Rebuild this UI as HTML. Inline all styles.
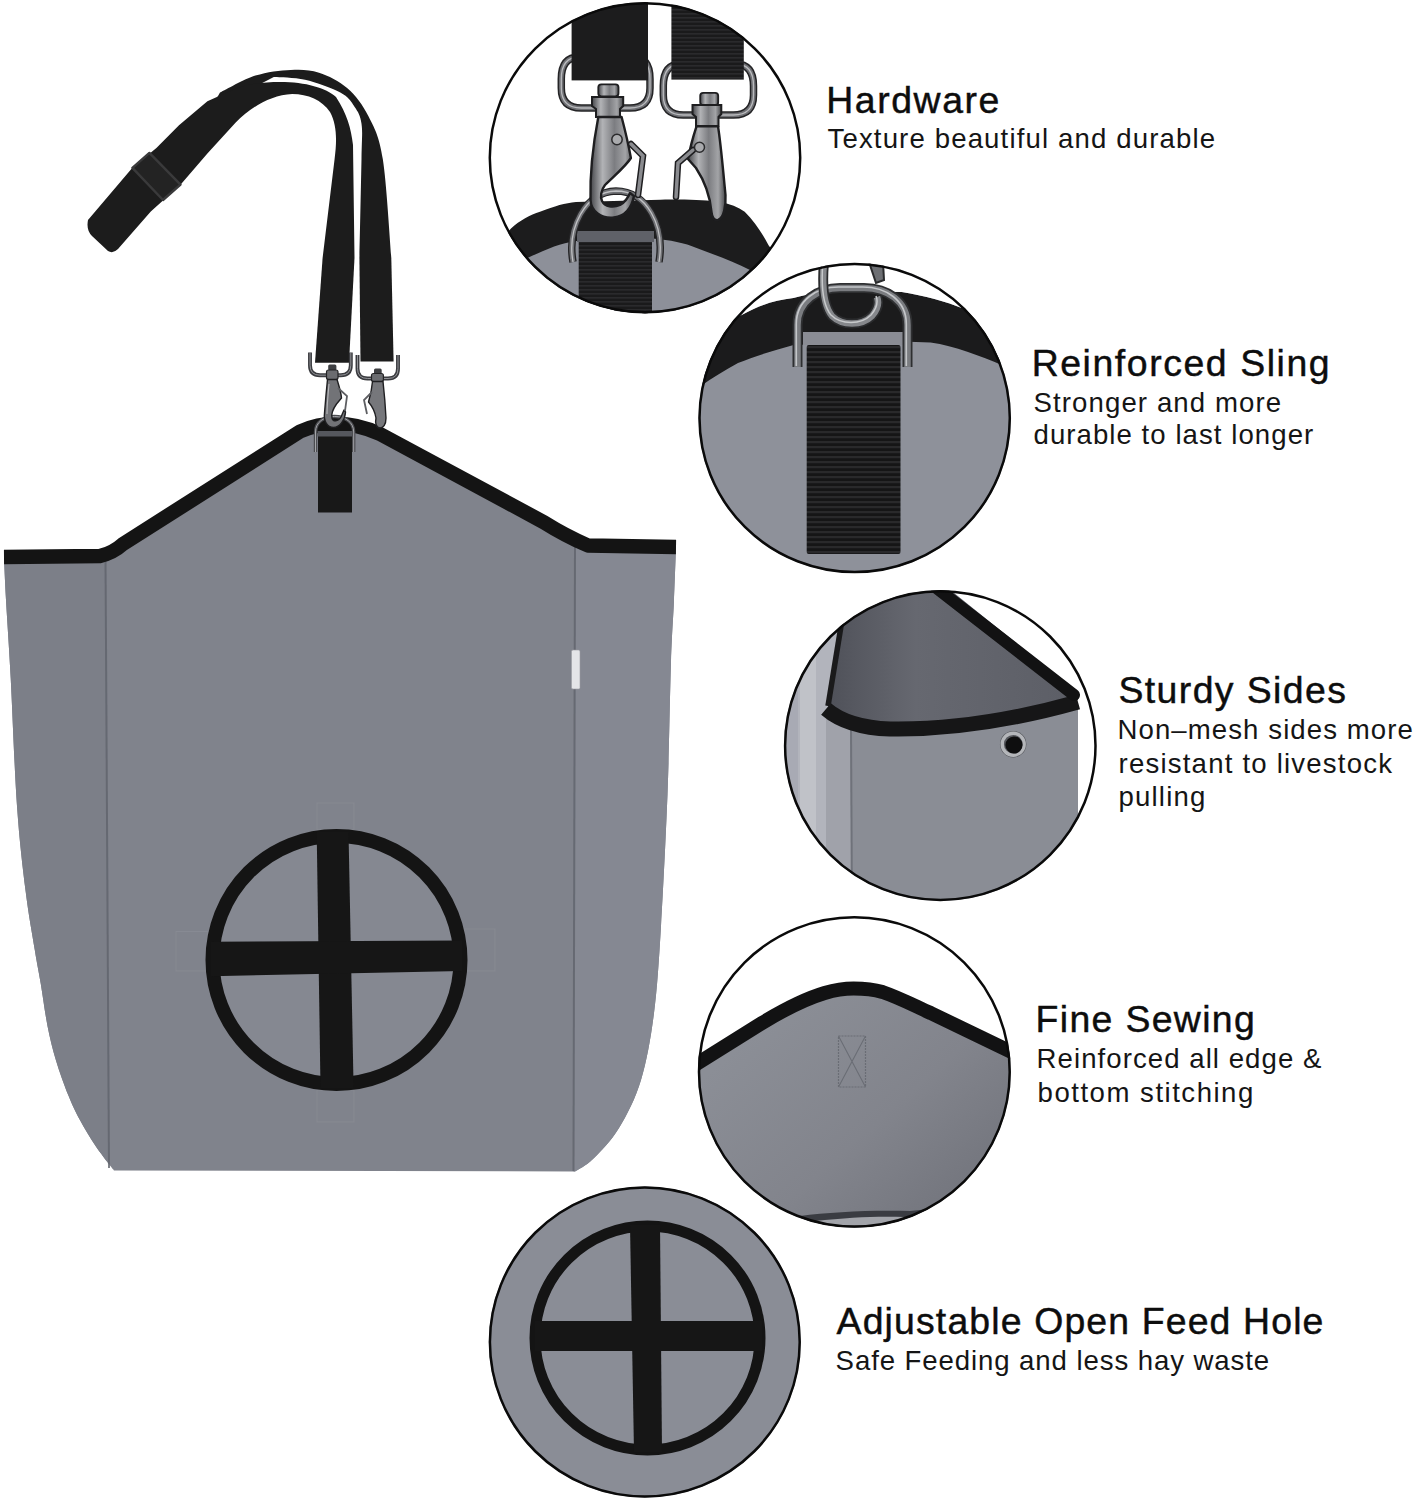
<!DOCTYPE html>
<html><head><meta charset="utf-8"><title>Hay Bag</title>
<style>
html,body{margin:0;padding:0;background:#fff;}
body{width:1413px;height:1500px;position:relative;overflow:hidden;font-family:"Liberation Sans",sans-serif;color:#0d0d0d;}
svg{position:absolute;left:0;top:0;}
.h,.s{position:absolute;white-space:nowrap;line-height:1;}
.h{font-size:37.4px;-webkit-text-stroke:0.45px #0d0d0d;}
.s{font-size:27.6px;color:#151515;}
</style></head><body>
<svg width="1413" height="1500" viewBox="0 0 1413 1500">
<defs><pattern id="web" width="6" height="5" patternUnits="userSpaceOnUse"><rect width="6" height="5" fill="#151516"/><rect y="1" width="6" height="2.2" fill="#29292b"/></pattern><pattern id="web2" width="6" height="4" patternUnits="userSpaceOnUse"><rect width="6" height="4" fill="#1a1a1b"/><rect y="1" width="6" height="1.6" fill="#2a2a2c"/></pattern><clipPath id="c0"><ellipse cx="645" cy="157.75" rx="156.2" ry="155.45"/></clipPath><clipPath id="c1"><ellipse cx="854.65" cy="418.05" rx="156.15" ry="155.05"/></clipPath><clipPath id="c2"><ellipse cx="940.3" cy="745.65" rx="156.2" ry="155.35"/></clipPath><clipPath id="c3"><ellipse cx="854.35" cy="1071.95" rx="156.35" ry="155.65"/></clipPath><clipPath id="c4"><ellipse cx="644.8" cy="1342" rx="155.9" ry="155.5"/></clipPath></defs>
<path d="M4,557 L100,556 Q113,553 123,544 L300,431.5 Q338,415 380,434 L544,522.3 Q565,535.5 588,545.5 L676,547 L676.0,547.0 C675.7,555.8 674.8,580.8 674.0,600.0 C673.2,619.2 672.1,629.7 671.0,662.0 C669.9,694.3 669.2,750.0 667.5,794.0 C665.8,838.0 663.2,889.5 661.0,926.0 C658.8,962.5 657.3,987.3 654.0,1013.0 C650.7,1038.7 646.8,1060.8 641.0,1080.0 C635.2,1099.2 627.0,1114.8 619.0,1128.0 C611.0,1141.2 600.3,1151.8 593.0,1159.0 C585.7,1166.2 578.0,1169.4 575.0,1171.5 L113.8,1170.5 L113.8,1170.0 C113.2,1169.3 113.5,1170.1 110.4,1166.0 C107.3,1161.9 100.2,1153.0 95.1,1145.3 C90.0,1137.6 84.3,1128.3 79.8,1119.8 C75.3,1111.3 72.0,1104.3 68.0,1094.4 C64.0,1084.5 59.4,1071.7 56.0,1060.4 C52.6,1049.1 50.1,1039.1 47.6,1026.4 C45.1,1013.7 42.9,996.7 40.8,984.0 C38.7,971.3 37.3,965.5 34.8,950.0 C32.3,934.5 28.6,915.0 25.6,891.0 C22.6,867.0 19.5,841.5 17.0,806.0 C14.5,770.5 12.5,712.3 10.7,678.0 C8.9,643.7 7.1,620.0 6.0,600.0 C4.9,580.0 4.3,565.0 4.0,558.0 Z" fill="#80838c"/>
<clipPath id="bodyclip"><path d="M4,557 L100,556 Q113,553 123,544 L300,431.5 Q338,415 380,434 L544,522.3 Q565,535.5 588,545.5 L676,547 L676.0,547.0 C675.7,555.8 674.8,580.8 674.0,600.0 C673.2,619.2 672.1,629.7 671.0,662.0 C669.9,694.3 669.2,750.0 667.5,794.0 C665.8,838.0 663.2,889.5 661.0,926.0 C658.8,962.5 657.3,987.3 654.0,1013.0 C650.7,1038.7 646.8,1060.8 641.0,1080.0 C635.2,1099.2 627.0,1114.8 619.0,1128.0 C611.0,1141.2 600.3,1151.8 593.0,1159.0 C585.7,1166.2 578.0,1169.4 575.0,1171.5 L113.8,1170.5 L113.8,1170.0 C113.2,1169.3 113.5,1170.1 110.4,1166.0 C107.3,1161.9 100.2,1153.0 95.1,1145.3 C90.0,1137.6 84.3,1128.3 79.8,1119.8 C75.3,1111.3 72.0,1104.3 68.0,1094.4 C64.0,1084.5 59.4,1071.7 56.0,1060.4 C52.6,1049.1 50.1,1039.1 47.6,1026.4 C45.1,1013.7 42.9,996.7 40.8,984.0 C38.7,971.3 37.3,965.5 34.8,950.0 C32.3,934.5 28.6,915.0 25.6,891.0 C22.6,867.0 19.5,841.5 17.0,806.0 C14.5,770.5 12.5,712.3 10.7,678.0 C8.9,643.7 7.1,620.0 6.0,600.0 C4.9,580.0 4.3,565.0 4.0,558.0 Z"/></clipPath>
<g clip-path="url(#bodyclip)"><path d="M0,540 L105.5,540 L109,1175 L0,1175 Z" fill="#7c7f88"/><path d="M575,530 L700,530 L700,1180 L573.5,1180 Z" fill="#858892"/></g>
<path d="M105.5,556 L109,1168" stroke="#5f636c" stroke-width="2" fill="none" opacity="0.8"/>
<path d="M575,546 L573.5,1171" stroke="#5f636c" stroke-width="2" fill="none" opacity="0.8"/>
<rect x="571.5" y="650" width="8.5" height="39" rx="1.5" fill="#e4e5e8" stroke="#9a9ca3" stroke-width="0.6"/>
<path d="M4,557 L100,556 Q113,553 123,544 L300,431.5 Q338,415 380,434 L544,522.3 Q565,535.5 588,545.5 L676,547" stroke="#141414" stroke-width="14.4" fill="none" stroke-linejoin="round"/>
<circle cx="336.5" cy="960" r="124" fill="#858891"/>
<rect x="317" y="803" width="37" height="27" fill="none" stroke="#8c8f97" stroke-width="1" opacity="0.6"/>
<rect x="317" y="1090" width="37" height="32" fill="none" stroke="#8c8f97" stroke-width="1" opacity="0.6"/>
<rect x="176" y="931.5" width="32" height="39.5" fill="none" stroke="#8c8f97" stroke-width="1" opacity="0.6"/>
<rect x="463" y="929" width="32" height="42" fill="none" stroke="#8c8f97" stroke-width="1" opacity="0.6"/>
<circle cx="336.5" cy="960" r="124" fill="none" stroke="#141414" stroke-width="14"/>
<path d="M316.7,832 L348.5,832 L353.6,1088 L320.5,1088 Z" fill="#161616"/>
<path d="M211,941.8 L462,940.5 L462,971 L211,976.2 Z" fill="#161616"/>
<rect x="318" y="432" width="34" height="80.5" fill="#181818"/>
<rect x="317.5" y="431" width="35" height="5.5" fill="#55575d"/>
<path d="M359.4,258 L391.3,258 L393.6,361.4 L360.5,361.4 Z" fill="#1c1c1c"/>
<path d="M322.6,258 L354.5,258 L349,362.7 L315,362.7 Z" fill="#1c1c1c"/>
<path d="M391.3,258.0 C389.9,241.5 386.6,182.6 382.8,159.0 C379.0,135.4 374.5,128.4 368.6,116.6 C362.7,104.8 355.7,95.6 347.4,88.3 C339.1,81.0 328.4,75.8 319.0,72.7 C309.6,69.6 301.4,69.4 290.8,69.9 C280.2,70.4 267.2,71.8 255.4,75.6 C243.6,79.4 225.9,89.8 220.0,92.6 L 210,110 L273.8,77.0 C279.0,77.5 293.9,77.2 305.0,79.8 C316.1,82.4 332.1,88.1 340.3,92.6 C348.6,97.1 351.0,101.5 354.5,106.7 C358.0,111.9 360.3,115.0 361.5,123.7 C362.7,132.4 361.9,136.6 361.5,159.0 C361.1,181.4 359.8,241.5 359.4,258.0 Z" fill="#1c1c1c"/>
<path d="M354.5,258 L353,145 C351,128 347,114 336,97 C326,88 306,82 280,82 C262,82 245,84 228,92 L207.4,101.2 L179,125.3 L156.4,148 L132.4,167.8 L88,220 Q86,230 92,236 L108,251 Q113,254 118,249 L150.8,211.6 L180.5,184.7 L207.4,153.6 L235.7,122.5 C250,108 270,95 292.2,94 C308,94 322,100 330,112 C337,125 337,140 334.6,159 L322.6,258 Z" fill="#1c1c1c"/>
<path d="M132.4,167.8 L149.4,152.9 L180.5,184.7 L163,200 Z" fill="#232323" stroke="#3a3a3b" stroke-width="2.4" stroke-linejoin="round"/>
<path d="M310,352.5 L310,365.2 Q310,375.2 320,375.2 L340.8,375.2 Q350.8,375.2 350.8,365.2 L350.8,352.5" fill="none" stroke="#3a3b3f" stroke-width="3.9"/><path d="M310,352.5 L310,365.2 Q310,375.2 320,375.2 L340.8,375.2 Q350.8,375.2 350.8,365.2 L350.8,352.5" fill="none" stroke="#9c9da1" stroke-width="0.9"/>
<path d="M357.5,355 L357.5,368.5 Q357.5,378.5 367.5,378.5 L388,378.5 Q398,378.5 398,368.5 L398,355" fill="none" stroke="#3a3b3f" stroke-width="3.9"/><path d="M357.5,355 L357.5,368.5 Q357.5,378.5 367.5,378.5 L388,378.5 Q398,378.5 398,368.5 L398,355" fill="none" stroke="#9c9da1" stroke-width="0.9"/>
<path d="M315.5,452 L315.5,432 C315.5,422 324,416.5 334.5,416.5 C345,416.5 353.7,422 353.7,432 L353.7,452" fill="none" stroke="#4b4c50" stroke-width="3.4"/>
<path d="M315.5,452 L315.5,432 C315.5,422 324,416.5 334.5,416.5 C345,416.5 353.7,422 353.7,432 L353.7,452" fill="none" stroke="#a5a6aa" stroke-width="1"/>
<rect x="328.2" y="364.5" width="8.2" height="6" rx="1.5" fill="#3e3f42"/>
<rect x="326.5" y="370" width="11.5" height="9.5" rx="2" fill="#6b6c70" stroke="#242426" stroke-width="1.2"/>
<path d="M327.5,379.5 L337,379.5 C339,386 341,392 341.5,398 L336.5,404 C333,409 331,414 332,418 C333,422 338,422 341,417 L344,410 L345.5,412 C345,420 340,427.5 333.5,427.5 C327,427 323.5,421 324.5,413 L326,395 Z" fill="#727377" stroke="#1f1f21" stroke-width="1.4" stroke-linejoin="round"/>
<path d="M338,388 L347,396 L345,411" fill="none" stroke="#5d5e62" stroke-width="1.8"/>
<path d="M329,384 C328,395 327,405 327,414" fill="none" stroke="#b9babd" stroke-width="1.1"/>
<rect x="374" y="368.5" width="7.7" height="5.5" rx="1.5" fill="#3e3f42"/>
<rect x="371.5" y="373.5" width="11.9" height="8" rx="2" fill="#6b6c70" stroke="#242426" stroke-width="1.2"/>
<path d="M372.5,381.5 L383,381.5 C384.5,395 385.5,408 386,418 C386,425 383,428 380,428 C376,427.5 375,423 376,418 C375,412 372,406 368.5,402 L371,392 Z" fill="#76777b" stroke="#1f1f21" stroke-width="1.4" stroke-linejoin="round"/>
<path d="M372,392 L364,400 L367,414" fill="none" stroke="#5d5e62" stroke-width="1.8"/>
<g clip-path="url(#c0)"><rect x="480" y="0" width="330" height="320" fill="#ffffff"/><path d="M480,260 L511,228.6 C520,220 530,215 540,211.7 C555,206 565,203 576,202 L660.5,199.7 C690,199 705,200 720.6,202 C730,204 738,207 744.7,211.7 C755,222 762,233 768.7,245.4 L810,300 L810,330 L480,330 Z" fill="#1c1c1d"/><path d="M480,330 L480,280 L518,256 C521,257 524,258 528,257.7 C545,250 560,243 576,241 L653,238.5 C670,240 685,243 696.6,248 C715,255 735,262 749.5,269.8 L810,310 L810,330 Z" fill="#8d9099"/><rect x="578.7" y="241" width="73.3" height="75" fill="url(#web2)"/><rect x="577" y="231" width="77" height="11" fill="#5f6168"/><defs><linearGradient id="met" x1="0" y1="0" x2="1" y2="0"><stop offset="0" stop-color="#45464a"/><stop offset="0.28" stop-color="#b2b3b6"/><stop offset="0.55" stop-color="#7c7d81"/><stop offset="0.8" stop-color="#a3a4a7"/><stop offset="1" stop-color="#48494c"/></linearGradient></defs><path d="M561.3,79 L561.3,88 Q561.3,108 581.3,108 L630,108 Q650,108 650,88 L650,79 Q650,57 632,57" fill="none" stroke="#242426" stroke-width="7.5" stroke-linejoin="round"/><path d="M561.3,79 L561.3,88 Q561.3,108 581.3,108 L630,108 Q650,108 650,88 L650,79 Q650,57 632,57" fill="none" stroke="#6e6f73" stroke-width="4.5" stroke-linejoin="round"/><path d="M561.3,79 L561.3,88 Q561.3,108 581.3,108 L630,108 Q650,108 650,88 L650,79 Q650,57 632,57" fill="none" stroke="#b9babd" stroke-width="1.3" stroke-linejoin="round"/><path d="M579.3,57 Q561.3,57 561.3,79" fill="none" stroke="#242426" stroke-width="7.5" stroke-linejoin="round"/><path d="M579.3,57 Q561.3,57 561.3,79" fill="none" stroke="#6e6f73" stroke-width="4.5" stroke-linejoin="round"/><path d="M579.3,57 Q561.3,57 561.3,79" fill="none" stroke="#b9babd" stroke-width="1.3" stroke-linejoin="round"/><path d="M663.3,86 L663.3,95 Q663.3,115 683.3,115 L733.5,115 Q753.5,115 753.5,95 L753.5,86 Q753.5,64 735.5,64" fill="none" stroke="#242426" stroke-width="7.5" stroke-linejoin="round"/><path d="M663.3,86 L663.3,95 Q663.3,115 683.3,115 L733.5,115 Q753.5,115 753.5,95 L753.5,86 Q753.5,64 735.5,64" fill="none" stroke="#6e6f73" stroke-width="4.5" stroke-linejoin="round"/><path d="M663.3,86 L663.3,95 Q663.3,115 683.3,115 L733.5,115 Q753.5,115 753.5,95 L753.5,86 Q753.5,64 735.5,64" fill="none" stroke="#b9babd" stroke-width="1.3" stroke-linejoin="round"/><path d="M681.3,64 Q663.3,64 663.3,86" fill="none" stroke="#242426" stroke-width="7.5" stroke-linejoin="round"/><path d="M681.3,64 Q663.3,64 663.3,86" fill="none" stroke="#6e6f73" stroke-width="4.5" stroke-linejoin="round"/><path d="M681.3,64 Q663.3,64 663.3,86" fill="none" stroke="#b9babd" stroke-width="1.3" stroke-linejoin="round"/><rect x="571.6" y="0" width="76.4" height="80.4" fill="#1c1c1d"/><rect x="671.4" y="0" width="72.4" height="79.6" fill="url(#web2)"/><path d="M573,262 C567,228 585,192 616,191 C647,191 665,226 659,262" fill="none" stroke="#242426" stroke-width="7.5"/><path d="M573,262 C567,228 585,192 616,191 C647,191 665,226 659,262" fill="none" stroke="#707175" stroke-width="4.8"/><path d="M573,262 C567,228 585,192 616,191 C647,191 665,226 659,262" fill="none" stroke="#c0c1c4" stroke-width="1.3"/><rect x="598.3" y="84.3" width="20.2" height="12" rx="3" fill="url(#met)" stroke="#1e1e20" stroke-width="1.8"/><path d="M592,97 L623.2,97 L623.2,106 L620,109 L620,117 L596,117 L596,109 L592,106 Z" fill="url(#met)" stroke="#1e1e20" stroke-width="2"/><path d="M598.3,117 L621.6,117 C625,130 628,142 630.9,158 C626,166 615,175 605,185 C601,190 600,197 602,201 C605,207 613,208 620,205 C625,202 628,198 630,193 L634,196 C632,206 626,216 614,217.5 C601,219 591,211 590.5,200 C590,180 592,150 598.3,117 Z" fill="url(#met)" stroke="#1e1e20" stroke-width="2.4" stroke-linejoin="round"/><path d="M631,144 L643,156 L638,195" fill="none" stroke="#1e1e20" stroke-width="6.5" stroke-linecap="round"/><path d="M631,144 L643,156 L638,195" fill="none" stroke="#8a8b8f" stroke-width="3.5" stroke-linecap="round"/><circle cx="617" cy="139.5" r="5.2" fill="#a9aaad" stroke="#2a2a2c" stroke-width="1.5"/><rect x="700.2" y="92.8" width="18" height="12.5" rx="3" fill="url(#met)" stroke="#1e1e20" stroke-width="1.8"/><path d="M692.5,105 L721.3,105 L721.3,114 L718.5,117 L718.5,126.3 L696,126.3 L696,117 L692.5,114 Z" fill="url(#met)" stroke="#1e1e20" stroke-width="2"/><path d="M696.5,126.3 L718,126.3 C721,145 723,170 725.5,195 C726,206 724,218 718,220 C714,221 712,217 711.5,212 C710,196 704,180 696,168 L688,159 C690,148 693,137 696.5,126.3 Z" fill="url(#met)" stroke="#1e1e20" stroke-width="2.4" stroke-linejoin="round"/><path d="M693,150 L678,163 L676,197" fill="none" stroke="#1e1e20" stroke-width="6.5" stroke-linecap="round"/><path d="M693,150 L678,163 L676,197" fill="none" stroke="#8a8b8f" stroke-width="3.5" stroke-linecap="round"/><circle cx="699.5" cy="147.3" r="5" fill="#a9aaad" stroke="#2a2a2c" stroke-width="1.5"/></g>
<g clip-path="url(#c1)"><rect x="690" y="250" width="340" height="340" fill="#8e919a"/><path d="M690,330 L741.7,315 C760,305 775,300 793.5,298 C810,294 820,292 834.4,291 L901.7,292 C925,296 945,301 964.3,309 C978,318 988,330 995.6,341.4 L1030,380 L1030,372 C1020,370 1012,368 1002.8,365.5 C980,356 955,346 930.6,342.6 L901.7,341.4 L793.5,345 C775,350 755,356 738,363 C725,370 712,378 700.8,386 L690,392 Z" fill="#1b1b1c"/><path d="M690,250 L1030,250 L1030,372 L995.6,341.4 C988,330 978,318 964.3,309 C945,301 925,296 901.7,292 L834.4,291 C820,292 810,294 793.5,298 C775,300 760,305 741.7,315 L690,340 Z" fill="#ffffff"/><rect x="806.7" y="345" width="93.8" height="209" rx="2" fill="url(#web)"/><rect x="803" y="332" width="100" height="13" fill="#8a8c94"/><path d="M797.5,367 L797.5,325 C797.5,301 818,288 840,288 L864,288 C887,288 907.5,301 907.5,325 L907.5,367" fill="none" stroke="#2e2f31" stroke-width="10"/><path d="M797.5,367 L797.5,325 C797.5,301 818,288 840,288 L864,288 C887,288 907.5,301 907.5,325 L907.5,367" fill="none" stroke="#7a7c80" stroke-width="6.5"/><path d="M797.5,367 L797.5,325 C797.5,301 818,288 840,288 L864,288 C887,288 907.5,301 907.5,325 L907.5,367" fill="none" stroke="#c4c6c9" stroke-width="1.6" transform="translate(-1.2,-1)"/><path d="M824,262 C822,285 823,305 832,316 C842,326 862,326 872,316 C878,309 879,302 877,297" fill="none" stroke="#2a2b2d" stroke-width="10"/><path d="M824,262 C822,285 823,305 832,316 C842,326 862,326 872,316 C878,309 879,302 877,297" fill="none" stroke="#85878b" stroke-width="6.5"/><path d="M824,262 C822,285 823,305 832,316 C842,326 862,326 872,316 C878,309 879,302 877,297" fill="none" stroke="#c8cacc" stroke-width="1.5" transform="translate(-1,-1)"/><path d="M869,262 L883,262 L884,280 L876,283 Z" fill="#6d6f73" stroke="#2a2b2d" stroke-width="2"/></g>
<g clip-path="url(#c2)"><rect x="770" y="580" width="340" height="340" fill="#ffffff"/><path d="M770,580 L845,580 L842,626 L828,712 L826,920 L770,920 Z" fill="#b2b4bc"/><path d="M770,580 L798,580 L798,920 L770,920 Z" fill="#a8aab4"/><path d="M800,620 L816,620 L816,900 L800,900 Z" fill="#c0c2c8"/><defs><linearGradient id="g2" x1="0" y1="0" x2="1" y2="0"><stop offset="0" stop-color="#4f5159"/><stop offset="0.35" stop-color="#666870"/><stop offset="1" stop-color="#5c5e66"/></linearGradient></defs><path d="M845,580 L938,580 L1078,693 L1078,700 C1040,712 990,722 938,725 C900,726 870,724 850,718 L828,708 L842,626 Z" fill="url(#g2)"/><path d="M826,712 C840,722 860,730 890,731 C950,733 1010,725 1078,702 L1078,920 L826,920 Z" fill="#8a8d95"/><path d="M826,712 L850,722 L852,920 L826,920 Z" fill="#a0a2aa"/><path d="M851,725 L852,920" stroke="#6f727a" stroke-width="2"/><path d="M826,709 C840,721 860,728 890,729 C950,730 1010,721 1078,702" fill="none" stroke="#161617" stroke-width="15" stroke-linejoin="round"/><path d="M936.5,588 L1074,695" fill="none" stroke="#121213" stroke-width="12" stroke-linecap="round"/><path d="M842,620 L828,706" fill="none" stroke="#1a1a1b" stroke-width="5.5"/><circle cx="1013.2" cy="744.2" r="13.2" fill="#55575c"/><circle cx="1013.2" cy="744.2" r="11" fill="none" stroke="#b4b6ba" stroke-width="3.4"/><circle cx="1014" cy="745" r="8.6" fill="#0e0e0f"/></g>
<g clip-path="url(#c3)"><rect x="690" y="910" width="340" height="340" fill="#ffffff"/><defs><linearGradient id="g3" x1="0.25" y1="0.1" x2="1" y2="0.75"><stop offset="0" stop-color="#8b8e96"/><stop offset="0.5" stop-color="#82848c"/><stop offset="1" stop-color="#6f7179"/></linearGradient></defs><path d="M690,1068 L762,1023 C790,1006 808,998 824.7,993 C838,989 846,988.5 853.6,988.5 C865,988.5 874,989.5 882.5,992 C900,998 915,1006 930.6,1013 L1030,1061 L1030,1250 L690,1250 Z" fill="url(#g3)"/><path d="M690,1068 L762,1023 C790,1006 808,998 824.7,993 C838,989 846,988.5 853.6,988.5 C865,988.5 874,989.5 882.5,992 C900,998 915,1006 930.6,1013 L1030,1061" fill="none" stroke="#121213" stroke-width="14" stroke-linejoin="round"/><rect x="838.5" y="1036" width="27" height="51" fill="none" stroke="#6a6d75" stroke-width="1.2" stroke-dasharray="2,1"/><path d="M838.5,1036 L865.5,1087 M865.5,1036 L838.5,1087" stroke="#6a6d75" stroke-width="1.1"/><path d="M800,1216 C830,1212 870,1210 910,1211 L960,1206 L960,1240 L800,1240 Z" fill="#3a3c42"/><path d="M815,1221 C850,1217 880,1216 905,1217 L905,1240 L815,1240 Z" fill="#a2a4aa"/></g>
<g clip-path="url(#c4)"><rect x="480" y="1180" width="340" height="320" fill="#8a8d96"/><ellipse cx="647.5" cy="1338" rx="112.5" ry="112" fill="none" stroke="#141414" stroke-width="11"/><path d="M630,1225 L660,1225 L662,1452 L634,1452 Z" fill="#161616"/><path d="M535,1321 L762,1321 L762,1351 L535,1351 Z" fill="#161616"/></g>
<ellipse cx="645" cy="157.75" rx="155.2" ry="154.45" fill="none" stroke="#0a0a0a" stroke-width="2.5"/>
<ellipse cx="854.65" cy="418.05" rx="155.15" ry="154.05" fill="none" stroke="#0a0a0a" stroke-width="2.5"/>
<ellipse cx="940.3" cy="745.65" rx="155.2" ry="154.35" fill="none" stroke="#0a0a0a" stroke-width="2.5"/>
<ellipse cx="854.35" cy="1071.95" rx="155.35" ry="154.65" fill="none" stroke="#0a0a0a" stroke-width="2.5"/>
<ellipse cx="644.8" cy="1342" rx="154.9" ry="154.5" fill="none" stroke="#0a0a0a" stroke-width="2.5"/>
</svg>
<div class="h" style="left:826.3px;top:81.8px;letter-spacing:1.563px">Hardware</div>
<div class="s" style="left:827.5px;top:125.4px;letter-spacing:1.130px">Texture beautiful and durable</div>
<div class="h" style="left:1031.7px;top:345.1px;letter-spacing:1.570px">Reinforced Sling</div>
<div class="s" style="left:1033.5px;top:388.5px;letter-spacing:1.099px">Stronger and more</div>
<div class="s" style="left:1033.5px;top:421.4px;letter-spacing:1.048px">durable to last longer</div>
<div class="h" style="left:1118.5px;top:672.3px;letter-spacing:1.396px">Sturdy Sides</div>
<div class="s" style="left:1117.5px;top:716.0px;letter-spacing:1.074px">Non&#8211;mesh sides more</div>
<div class="s" style="left:1118.5px;top:750.0px;letter-spacing:1.196px">resistant to livestock</div>
<div class="s" style="left:1118.5px;top:783.2px;letter-spacing:1.177px">pulling</div>
<div class="h" style="left:1035.6px;top:1001.4px;letter-spacing:1.340px">Fine Sewing</div>
<div class="s" style="left:1036.6px;top:1045.1px;letter-spacing:1.050px">Reinforced all edge &amp;</div>
<div class="s" style="left:1037.6px;top:1079.0px;letter-spacing:1.497px">bottom stitching</div>
<div class="h" style="left:836.6px;top:1302.5px;letter-spacing:1.144px">Adjustable Open Feed Hole</div>
<div class="s" style="left:835.6px;top:1347.2px;letter-spacing:0.900px">Safe Feeding and less hay waste</div>
</body></html>
